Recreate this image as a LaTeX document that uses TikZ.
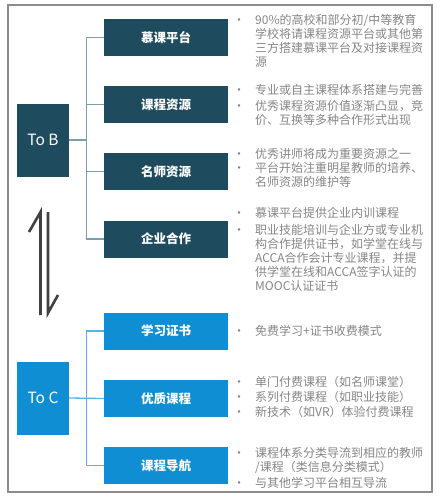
\documentclass[tikz,border=0pt]{standalone}
\usepackage{fontspec}
\setmainfont{Noto Sans CJK SC}
\usetikzlibrary{positioning}
\definecolor{tbdark}{HTML}{1F4B5E}
\definecolor{tcblue}{HTML}{0F8ED3}
\definecolor{tbtrunk}{HTML}{7E9DAA}
\definecolor{tctrunk}{HTML}{55B3E6}
\definecolor{notegray}{HTML}{858585}
\definecolor{framegray}{HTML}{8C8C8C}
\newcommand\itm{\llap{•\hspace{10pt}}}

\tikzset{
  hub/.style={minimum width=52pt,minimum height=73pt,inner sep=0pt,text=white,font=\fontsize{15.5}{18}\selectfont},
  sub/.style={minimum width=124pt,minimum height=37pt,inner sep=0pt,text=white,font=\fontsize{12.5}{15}\selectfont\bfseries},
  note/.style={anchor=north west,inner sep=0pt,align=left,text=notegray,font=\fontsize{12}{14.2}\selectfont},
  tbline/.style={tbtrunk,line width=1.3pt},
  tcline/.style={tctrunk,line width=1.3pt}
}

\begin{document}
\begin{tikzpicture}[x=1pt,y=-1pt]
\useasboundingbox (0,0) rectangle (441,498);
\draw[framegray,line width=1.2pt] (8,5) rectangle (432,492);

% to B
\node[hub,fill=tbdark] (tob) at (43,140) {To B};
\node[sub,fill=tbdark] (mooc) at (166,37.5) {慕课平台};
\node[sub,fill=tbdark] (kcres) at (166,104.5) {课程资源};
\node[sub,fill=tbdark] (msres) at (166,171.5) {名师资源};
\node[sub,fill=tbdark] (qyhz) at (166,239) {企业合作};
\draw[tbline] (mooc.west) -- ++(-17,0) |- (qyhz.west);
\draw[tbline] (kcres.west) -- ++(-17,0);
\draw[tbline] (msres.west) -- ++(-17,0);
\draw[tbline] (tob.east) -- (tob.east -| 87,0);

\node[note] (nmooc) at (255,14) {\itm 90\%的高校和部分初/中等教育\\学校将请课程资源平台或其他第\\三方搭建慕课平台及对接课程资\\源};
\node[note] (nkcres) at (255,84) {\itm 专业或自主课程体系搭建与完善\\[1.5pt]\itm 优秀课程资源价值逐渐凸显，竞\\价、互换等多种合作形式出现};
\node[note] (nmsres) at (255,148) {\itm 优秀讲师将成为重要资源之一\\\itm 平台开始注重明星教师的培养、\\名师资源的维护等};
\node[note] (nqyhz) at (255,207) {\itm 慕课平台提供企业内训课程\\[2.5pt]\itm 职业技能培训与企业方或专业机\\构合作提供证书，如学堂在线与\\ACCA合作会计专业课程，并提\\供学堂在线和ACCA签字认证的\\MOOC认证证书};

% harpoons
\draw[black!75,line width=2.6pt] (40.5,315) -- (40.5,212) -- (29,232);
\draw[black!75,line width=2.6pt] (48,212) -- (48,313) -- (58,295);

% to C
\node[hub,fill=tcblue] (toc) at (43,398) {To C};
\node[sub,fill=tcblue] (xxzs) at (166,331) {学习证书};
\node[sub,fill=tcblue] (yzkc) at (166,398.5) {优质课程};
\node[sub,fill=tcblue] (kcdh) at (166,465.5) {课程导航};
\draw[tcline] (xxzs.west) -- ++(-17,0) |- (kcdh.west);
\draw[tcline] (toc.east) -- (yzkc.west);

\node[note] (nxxzs) at (255,325) {\itm 免费学习+证书收费模式};
\node[note] (nyzkc) at (255,376) {\itm 单门付费课程（如名师课堂）\\[1pt]\itm 系列付费课程（如职业技能）\\[1pt]\itm 新技术（如VR）体验付费课程};
\node[note] (nkcdh) at (255,447) {\itm 课程体系分类导流到相应的教师\\/课程（类信息分类模式）\\[1.5pt]\itm 与其他学习平台相互导流};
\end{tikzpicture}
\end{document}
